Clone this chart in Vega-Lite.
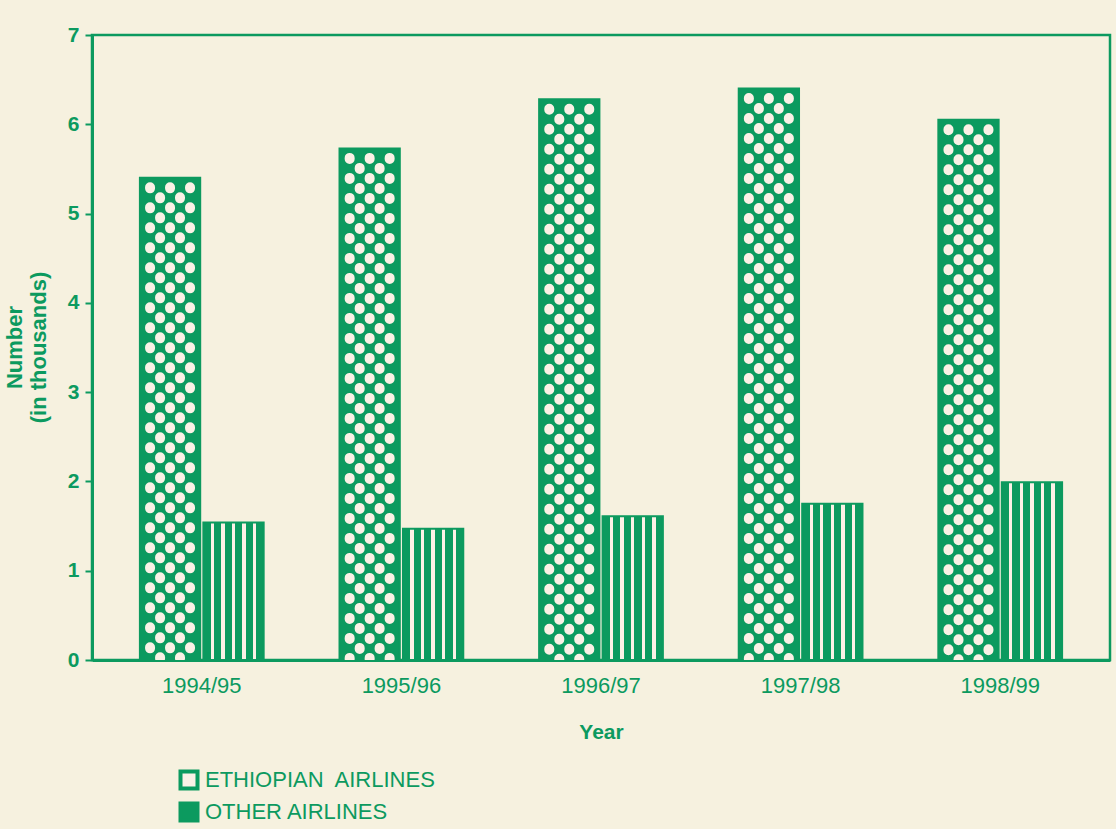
{
  "$schema": "https://vega.github.io/schema/vega-lite/v6.json",
  "width": 1018,
  "height": 625,
  "autosize": "none",
  "padding": {"left": 92, "top": 35, "right": 6, "bottom": 169},
  "background": "#f6f1df",
  "data": {
    "values": [
      {"year": "1994/95", "airline": "ETHIOPIAN  AIRLINES", "value": 5.40},
      {"year": "1994/95", "airline": "OTHER AIRLINES", "value": 1.54},
      {"year": "1995/96", "airline": "ETHIOPIAN  AIRLINES", "value": 5.73},
      {"year": "1995/96", "airline": "OTHER AIRLINES", "value": 1.47},
      {"year": "1996/97", "airline": "ETHIOPIAN  AIRLINES", "value": 6.28},
      {"year": "1996/97", "airline": "OTHER AIRLINES", "value": 1.61},
      {"year": "1997/98", "airline": "ETHIOPIAN  AIRLINES", "value": 6.40},
      {"year": "1997/98", "airline": "OTHER AIRLINES", "value": 1.75},
      {"year": "1998/99", "airline": "ETHIOPIAN  AIRLINES", "value": 6.05},
      {"year": "1998/99", "airline": "OTHER AIRLINES", "value": 1.99}
    ]
  },
  "layer": [
    {
      "transform": [{"filter": "datum.airline === 'ETHIOPIAN  AIRLINES'"}],
      "mark": {"type": "bar", "fill": "#0c9a5f", "stroke": "#0c9a5f", "strokeWidth": 2},
      "encoding": {
        "x": {"field": "year", "type": "nominal", "title": "Year", "scale": {"paddingInner": 0.38, "paddingOuter": 0.24}},
        "xOffset": {"field": "airline", "type": "nominal", "scale": {"domain": ["ETHIOPIAN  AIRLINES", "OTHER AIRLINES"], "paddingInner": 0.05, "paddingOuter": 0}},
        "y": {"field": "value", "type": "quantitative", "title": ["Number", "(in thousands)"], "scale": {"domain": [0, 7], "nice": false}, "axis": {"values": [0, 1, 2, 3, 4, 5, 6, 7], "format": "d"}}
      }
    },
    {
      "transform": [{"filter": "datum.airline === 'OTHER AIRLINES'"}],
      "mark": {
        "type": "bar", "stroke": "#0c9a5f", "strokeWidth": 2,
        "fill": {
          "gradient": "linear", "x1": 0, "y1": 0, "x2": 1, "y2": 0,
          "stops": [
            {"offset": 0, "color": "#0c9a5f"}, {"offset": 0.1212, "color": "#0c9a5f"},
            {"offset": 0.1212, "color": "#fbf1e6"}, {"offset": 0.1758, "color": "#fbf1e6"},
            {"offset": 0.1758, "color": "#0c9a5f"}, {"offset": 0.297, "color": "#0c9a5f"},
            {"offset": 0.297, "color": "#fbf1e6"}, {"offset": 0.3515, "color": "#fbf1e6"},
            {"offset": 0.3515, "color": "#0c9a5f"}, {"offset": 0.4727, "color": "#0c9a5f"},
            {"offset": 0.4727, "color": "#fbf1e6"}, {"offset": 0.5273, "color": "#fbf1e6"},
            {"offset": 0.5273, "color": "#0c9a5f"}, {"offset": 0.6485, "color": "#0c9a5f"},
            {"offset": 0.6485, "color": "#fbf1e6"}, {"offset": 0.703, "color": "#fbf1e6"},
            {"offset": 0.703, "color": "#0c9a5f"}, {"offset": 0.8242, "color": "#0c9a5f"},
            {"offset": 0.8242, "color": "#fbf1e6"}, {"offset": 0.8788, "color": "#fbf1e6"},
            {"offset": 0.8788, "color": "#0c9a5f"}, {"offset": 1, "color": "#0c9a5f"}
          ]
        }
      },
      "encoding": {
        "x": {"field": "year", "type": "nominal", "title": "Year"},
        "xOffset": {"field": "airline", "type": "nominal"},
        "y": {"field": "value", "type": "quantitative", "title": ["Number", "(in thousands)"]}
      }
    },
    {
      "transform": [{"filter": "datum.airline === 'ETHIOPIAN  AIRLINES'"}],
      "mark": {"type": "rule", "color": "#fbf1e6", "strokeWidth": 10, "strokeCap": "round", "strokeDash": [1, 19], "strokeDashOffset": 10.5, "clip": true},
      "encoding": {
        "x": {"field": "year", "type": "nominal", "title": "Year", "bandPosition": 0.082},
        "y": {"field": "value", "type": "quantitative", "title": ["Number", "(in thousands)"]},
        "y2": {"datum": 0}
      }
    },
    {
      "transform": [{"filter": "datum.airline === 'ETHIOPIAN  AIRLINES'"}],
      "mark": {"type": "rule", "color": "#fbf1e6", "strokeWidth": 10, "strokeCap": "round", "strokeDash": [1, 19], "strokeDashOffset": 10.5, "yOffset": 10, "clip": true},
      "encoding": {
        "x": {"field": "year", "type": "nominal", "title": "Year", "bandPosition": 0.163},
        "y": {"field": "value", "type": "quantitative", "title": ["Number", "(in thousands)"]},
        "y2": {"datum": 0}
      }
    },
    {
      "transform": [{"filter": "datum.airline === 'ETHIOPIAN  AIRLINES'"}],
      "mark": {"type": "rule", "color": "#fbf1e6", "strokeWidth": 10, "strokeCap": "round", "strokeDash": [1, 19], "strokeDashOffset": 10.5, "clip": true},
      "encoding": {
        "x": {"field": "year", "type": "nominal", "title": "Year", "bandPosition": 0.2435},
        "y": {"field": "value", "type": "quantitative", "title": ["Number", "(in thousands)"]},
        "y2": {"datum": 0}
      }
    },
    {
      "transform": [{"filter": "datum.airline === 'ETHIOPIAN  AIRLINES'"}],
      "mark": {"type": "rule", "color": "#fbf1e6", "strokeWidth": 10, "strokeCap": "round", "strokeDash": [1, 19], "strokeDashOffset": 10.5, "yOffset": 10, "clip": true},
      "encoding": {
        "x": {"field": "year", "type": "nominal", "title": "Year", "bandPosition": 0.324},
        "y": {"field": "value", "type": "quantitative", "title": ["Number", "(in thousands)"]},
        "y2": {"datum": 0}
      }
    },
    {
      "transform": [{"filter": "datum.airline === 'ETHIOPIAN  AIRLINES'"}],
      "mark": {"type": "rule", "color": "#fbf1e6", "strokeWidth": 10, "strokeCap": "round", "strokeDash": [1, 19], "strokeDashOffset": 10.5, "clip": true},
      "encoding": {
        "x": {"field": "year", "type": "nominal", "title": "Year", "bandPosition": 0.405},
        "y": {"field": "value", "type": "quantitative", "title": ["Number", "(in thousands)"]},
        "y2": {"datum": 0}
      }
    },
    {
      "mark": {"type": "square", "opacity": 0, "size": 10},
      "encoding": {
        "x": {"field": "year", "type": "nominal", "title": "Year"},
        "xOffset": {"field": "airline", "type": "nominal"},
        "y": {"field": "value", "type": "quantitative", "title": ["Number", "(in thousands)"]},
        "color": {
          "field": "airline", "type": "nominal",
          "scale": {"domain": ["ETHIOPIAN  AIRLINES", "OTHER AIRLINES"], "range": ["#fbf1e6", "#0c9a5f"]},
          "legend": {
            "orient": "none", "legendX": 86, "legendY": 734, "title": null, "padding": 0,
            "symbolType": "square", "symbolSize": 289, "symbolOpacity": 1,
            "symbolStrokeColor": "#0c9a5f", "symbolStrokeWidth": 4,
            "labelFontSize": 22, "labelColor": "#0c9a5f", "labelFont": "Liberation Sans",
            "labelExpr": "replace(datum.label, '  ', '\u00a0 ')",
            "rowPadding": -2, "labelOffset": 5, "labelLimit": 500
          }
        }
      }
    }
  ],
  "config": {
    "font": "Liberation Sans",
    "view": {"stroke": "#0c9a5f", "strokeWidth": 2.5},
    "axisX": {
      "labelAngle": 0, "ticks": false, "labelFontSize": 22, "labelColor": "#0c9a5f", "labelPadding": 15,
      "titleFontSize": 21, "titleFontWeight": "bold", "titleColor": "#0c9a5f", "titlePadding": 25,
      "domainColor": "#0c9a5f", "domainWidth": 3, "zindex": 1, "grid": false
    },
    "axisY": {
      "labelFontSize": 21, "labelFontWeight": "bold", "labelColor": "#0c9a5f",
      "tickColor": "#0c9a5f", "tickWidth": 2, "tickSize": 7, "labelPadding": 6,
      "titleFontSize": 22, "titleFontWeight": "bold", "titleColor": "#0c9a5f", "titleLineHeight": 24,
      "titleX": -78, "titleY": 312, "titleAngle": 270, "titleBaseline": "middle", "titleAlign": "center",
      "domainColor": "#0c9a5f", "domainWidth": 3, "grid": false, "zindex": 1
    }
  }
}
